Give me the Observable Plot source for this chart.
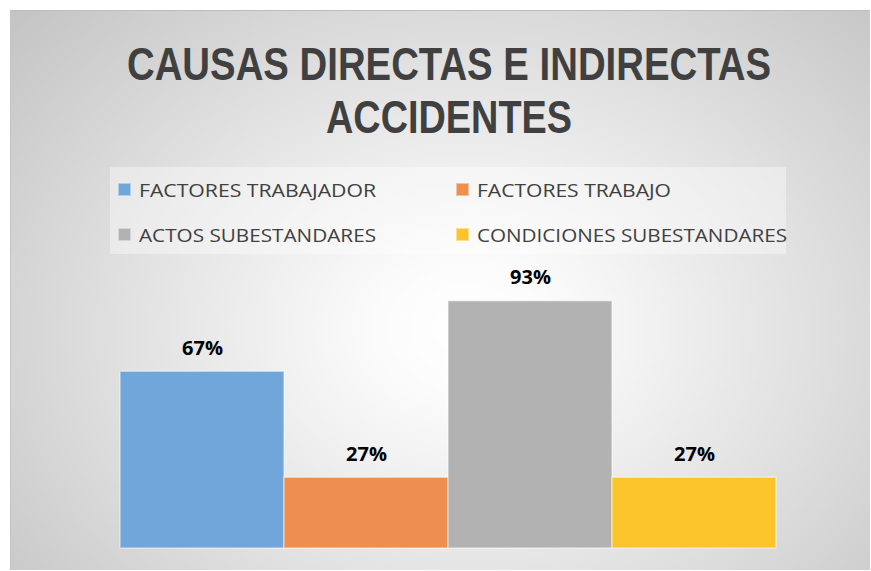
<!DOCTYPE html>
<html>
<head>
<meta charset="utf-8">
<script src="https://cdn.jsdelivr.net/npm/d3@7"></script>
<script src="https://cdn.jsdelivr.net/npm/@observablehq/plot@0.6"></script>
<style>
  html, body { margin: 0; padding: 0; background: #ffffff; }
  #wrap { position: relative; width: 871px; height: 571px; overflow: hidden; font-family: "Open Sans", "Liberation Sans", sans-serif; }
  #bg { position: absolute; left: 10px; top: 10px; width: 860px; height: 560px;
        background: radial-gradient(ellipse 70% 85% at 53% 57%, #ffffff 0%, #fbfbfb 15%, #e2e2e2 55%, #c4c4c4 100%);
        border-top: 1px solid #bdbdbd; border-left: 1px solid #c4c4c4; box-sizing: border-box; }
  .tline { position: absolute; left: 0; white-space: nowrap; font-family: "Liberation Sans", Arial, sans-serif; font-weight: 700; font-size: 47px; color: #404040; line-height: 1; transform-origin: 0 0; }
  #legend { position: absolute; left: 110px; top: 167px; width: 676px; height: 87px; background: rgba(255,255,255,0.38); }
  .lkey { position: absolute; width: 13px; height: 13px; box-sizing: border-box; }
  .ltxt { position: absolute; white-space: nowrap; font-size: 19px; color: #404040; line-height: 1; transform-origin: 0 0; }
  #chart { position: absolute; left: 0; top: 260px; }
</style>
</head>
<body>
<div id="wrap">
  <div id="bg"></div>
  <div id="title"></div>
  <div id="legend"></div>
  <div id="chart"></div>
</div>
<script>
// ---- data ----
const titleLines = ["CAUSAS DIRECTAS E INDIRECTAS", "ACCIDENTES"];
const categories = ["FACTORES TRABAJADOR", "FACTORES TRABAJO", "ACTOS SUBESTANDARES", "CONDICIONES SUBESTANDARES"];
const values = [66.7, 26.7, 93.3, 26.7];
const labels = ["67%", "27%", "93%", "27%"];
const colors = ["#70a6da", "#ee8f50", "#b2b2b2", "#fbc42a"];

const data = categories.map((c, i) => ({cat: c, value: values[i], label: labels[i]}));

// ---- helper: fit a text element horizontally to a target box ----
function fit(el, left, width, capTop, fontSize, capOffset) {
  el.style.left = left + "px";
  document.body.offsetWidth;
  const w = el.getBoundingClientRect().width;
  const sx = width / w;
  el.style.top = (capTop - fontSize * capOffset) + "px";
  el.style.transform = `scaleX(${sx})`;
}

// ---- title ----
const titleDiv = document.getElementById("title");
const tBoxes = [{l: 127, r: 771, top: 46}, {l: 326, r: 572, top: 99}];
titleLines.forEach((t, i) => {
  const s = document.createElement("div");
  s.className = "tline";
  s.textContent = t;
  titleDiv.appendChild(s);
  fit(s, tBoxes[i].l, tBoxes[i].r - tBoxes[i].l, tBoxes[i].top, 47, 0.13);
});

// ---- legend ----
const legend = document.getElementById("legend");
const lpos = [
  {kx: 8, ky: 16, tx: 29, tw: 237},
  {kx: 346, ky: 16, tx: 367, tw: 194},
  {kx: 8, ky: 61, tx: 29, tw: 237},
  {kx: 346, ky: 61, tx: 367, tw: 310}
];
categories.forEach((c, i) => {
  const k = document.createElement("div");
  k.className = "lkey";
  k.style.left = lpos[i].kx + "px";
  k.style.top = lpos[i].ky + "px";
  k.style.background = colors[i];
  k.style.border = "1px solid rgba(255,255,255,0.45)";
  legend.appendChild(k);
  const t = document.createElement("div");
  t.className = "ltxt";
  t.textContent = c;
  legend.appendChild(t);
  fit(t, lpos[i].tx, lpos[i].tw, lpos[i].ky + 1, 19, 0.174);
});

// ---- chart ----
const chart = Plot.plot({
  width: 871,
  height: 300,
  marginLeft: 118,
  marginRight: 94,
  marginTop: 23,
  marginBottom: 12,
  style: {background: "transparent", overflow: "visible"},
  x: {domain: categories, padding: 0, axis: null},
  y: {domain: [0, 100], axis: null},
  color: {domain: categories, range: colors},
  marks: [
    Plot.barY(data, {x: "cat", y: "value", fill: "cat", stroke: "#ffffff", strokeOpacity: 0.45, strokeWidth: 1.5}),
    Plot.text(data, {x: "cat", y: "value", text: "label", lineAnchor: "bottom", dy: -17,
                     fontSize: 20, fontWeight: "bold", fill: "#000000", fontFamily: "Open Sans"})
  ]
});
document.getElementById("chart").appendChild(chart);
</script>
</body>
</html>
